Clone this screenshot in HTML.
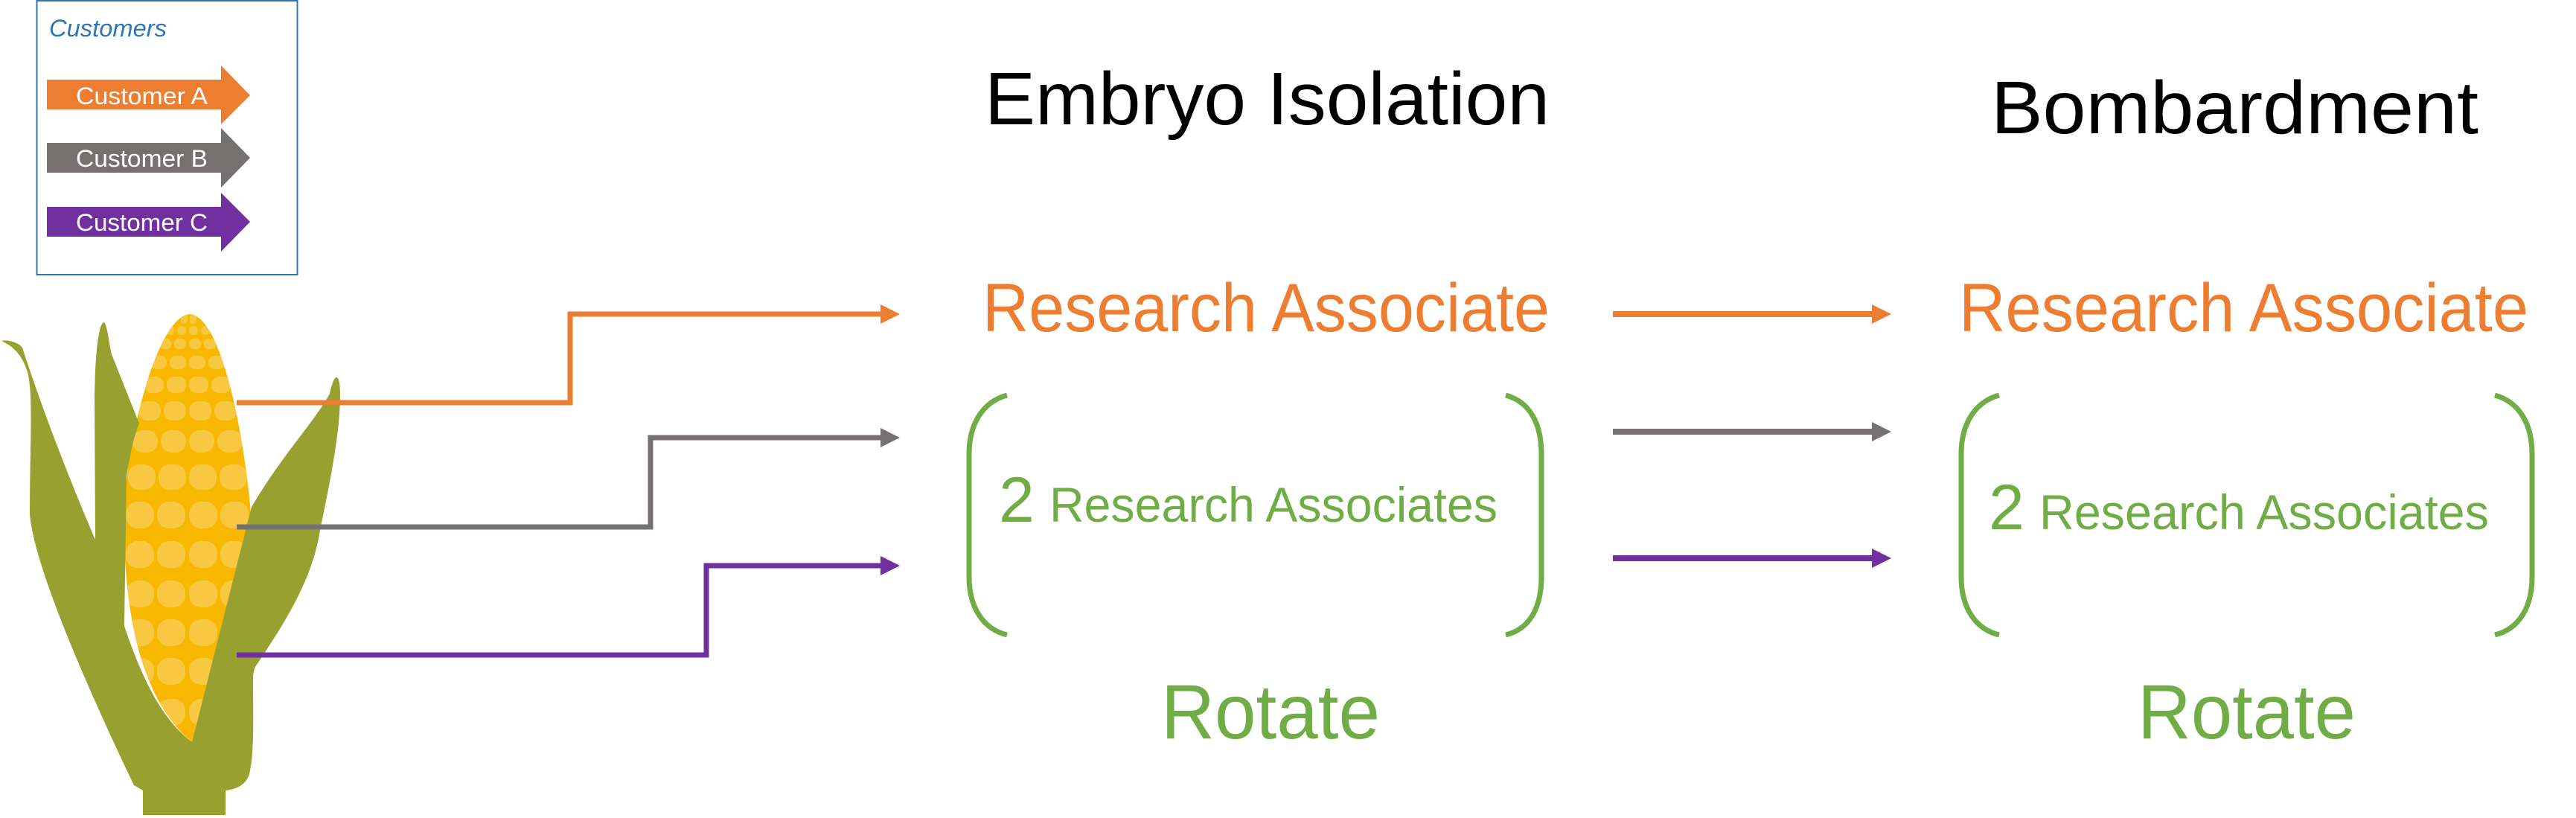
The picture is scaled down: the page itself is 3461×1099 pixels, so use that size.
<!DOCTYPE html>
<html><head><meta charset="utf-8"><style>html,body{margin:0;padding:0;background:#fff}svg{display:block}</style></head><body>
<svg width="3461" height="1099" viewBox="0 0 3461 1099" xmlns="http://www.w3.org/2000/svg" font-family="'Liberation Sans', sans-serif">
<!-- legend -->
<rect x="49.5" y="1" width="350" height="368" fill="none" stroke="#2E75B6" stroke-width="2"/>
<text x="66" y="49" font-size="32" font-style="italic" fill="#2E75B6" textLength="158" lengthAdjust="spacingAndGlyphs">Customers</text>
<polygon points="63,107 297,107 297,88 336,128 297,167 297,147 63,147" fill="#ED7D31"/>
<text x="102" y="140" font-size="32" fill="#fff" textLength="177" lengthAdjust="spacingAndGlyphs">Customer A</text>
<polygon points="63,192 297,192 297,172 336,212 297,252 297,232 63,232" fill="#767171"/>
<text x="102" y="224" font-size="32" fill="#fff" textLength="177" lengthAdjust="spacingAndGlyphs">Customer B</text>
<polygon points="63,278 297,278 297,259 336,298 297,338 297,318 63,318" fill="#7030A0"/>
<text x="102" y="310" font-size="32" fill="#fff" textLength="177" lengthAdjust="spacingAndGlyphs">Customer C</text>

<!-- corn -->
<defs><clipPath id="ear"><path d="M255,422 C300,425 330,600 337,690 C340,800 320,900 258,997 C200,950 165,850 167,690 C168,600 210,425 255,422Z"/></clipPath></defs>
<path d="M255,422 C300,425 330,600 337,690 C340,800 320,900 258,997 C200,950 165,850 167,690 C168,600 210,425 255,422Z" fill="#F8B800"/>
<g clip-path="url(#ear)" fill="#F9C843">
<rect x="243" y="421" width="9" height="14" rx="4"/><rect x="255" y="421" width="9" height="14" rx="4"/>
<rect x="222" y="438" width="12" height="12" rx="5"/><rect x="238" y="438" width="12" height="12" rx="5"/><rect x="254" y="438" width="12" height="12" rx="5"/><rect x="270" y="438" width="12" height="12" rx="5"/>
<rect x="214" y="455" width="16" height="14" rx="6"/><rect x="234" y="455" width="16" height="14" rx="6"/><rect x="254" y="455" width="16" height="14" rx="6"/><rect x="274" y="455" width="16" height="14" rx="6"/>
<rect x="202" y="478" width="22" height="18" rx="8"/><rect x="228" y="478" width="22" height="18" rx="8"/><rect x="254" y="478" width="22" height="18" rx="8"/><rect x="280" y="478" width="22" height="18" rx="8"/>
<rect x="194" y="506" width="26" height="22" rx="10"/><rect x="224" y="506" width="26" height="22" rx="10"/><rect x="254" y="506" width="26" height="22" rx="10"/><rect x="284" y="506" width="26" height="22" rx="10"/>
<rect x="186" y="539" width="30" height="26" rx="12"/><rect x="220" y="539" width="30" height="26" rx="12"/><rect x="254" y="539" width="30" height="26" rx="12"/><rect x="288" y="539" width="30" height="26" rx="12"/>
<rect x="178" y="578" width="34" height="30" rx="14"/><rect x="216" y="578" width="34" height="30" rx="14"/><rect x="254" y="578" width="34" height="30" rx="14"/><rect x="292" y="578" width="34" height="30" rx="14"/>
<rect x="172" y="624" width="37" height="34" rx="15"/><rect x="213" y="624" width="37" height="34" rx="15"/><rect x="254" y="624" width="37" height="34" rx="15"/><rect x="295" y="624" width="37" height="34" rx="15"/>
<g id="r9"><rect x="169" y="674" width="38" height="36" rx="16"/><rect x="211" y="674" width="38" height="36" rx="16"/><rect x="254" y="674" width="38" height="36" rx="16"/><rect x="296" y="674" width="38" height="36" rx="16"/></g>
<use href="#r9" y="53"/><use href="#r9" y="106"/><use href="#r9" y="158"/><use href="#r9" y="210"/><use href="#r9" y="265"/>
</g>
<path fill="#98A12F" d="M2,458 C10,462 28,470 37,500 C45,530 40,600 40,690 C45,760 120,930 180,1055 L192,1062 L192,1095 L303,1095 L303,1062 C318,1060 330,1055 335,1040 C342,1010 340,960 340,913 C340,900 343,895 347,890 C380,840 420,780 430,712 C445,640 457,580 457,529 C457,515 455,507 452,507 C449,507 446,515 443,529 C420,570 380,610 338,681 L258,997 C230,975 200,940 167,841 L170,640 C175,610 180,585 187,569 L150,476 C147,465 145,440 140,433 C133,433 128,470 127,534 L128,725 C100,660 60,560 30,467 C25,460 10,456 2,458Z"/>

<!-- left connectors -->
<g fill="none" stroke-width="7">
<polyline points="318,541 766,541 766,422 1186,422" stroke="#ED7D31"/>
<polyline points="318,708 874,708 874,588 1186,588" stroke="#767171"/>
<polyline points="318,880 949,880 949,760 1186,760" stroke="#7030A0"/>
</g>
<polygon points="1183,409 1209,422 1183,435" fill="#ED7D31"/>
<polygon points="1183,575 1209,588 1183,601" fill="#767171"/>
<polygon points="1183,747 1209,760 1183,773" fill="#7030A0"/>

<!-- headers -->
<text x="1323" y="167" font-size="100" fill="#000" textLength="759" lengthAdjust="spacingAndGlyphs">Embryo Isolation</text>
<text x="2675" y="179" font-size="100" fill="#000" textLength="655" lengthAdjust="spacingAndGlyphs">Bombardment</text>

<text x="1320" y="445" font-size="92" fill="#ED7D31" textLength="762" lengthAdjust="spacingAndGlyphs">Research Associate</text>
<text x="2632" y="445" font-size="92" fill="#ED7D31" textLength="765" lengthAdjust="spacingAndGlyphs">Research Associate</text>

<!-- middle arrows -->
<g stroke-width="8">
<line x1="2167" y1="422" x2="2520" y2="422" stroke="#ED7D31"/>
<line x1="2167" y1="580" x2="2520" y2="580" stroke="#767171"/>
<line x1="2167" y1="750" x2="2520" y2="750" stroke="#7030A0"/>
</g>
<polygon points="2515,409 2541,422 2515,435" fill="#ED7D31"/>
<polygon points="2515,567 2541,580 2515,593" fill="#767171"/>
<polygon points="2515,737 2541,750 2515,763" fill="#7030A0"/>

<!-- brackets -->
<g fill="none" stroke="#70AD47" stroke-width="7">
<path d="M1353,531 C1320,540 1302,570 1302,610 L1302,775 C1302,815 1320,845 1353,853"/>
<path d="M2023,531 C2056,540 2071,570 2071,610 L2071,775 C2071,815 2056,845 2023,853"/>
<path d="M2686,531 C2653,540 2635,570 2635,610 L2635,775 C2635,815 2653,845 2686,853"/>
<path d="M3352,531 C3385,540 3402,570 3402,610 L3402,775 C3402,815 3385,845 3352,853"/>
</g>
<text x="1342" y="701" font-size="86" fill="#70AD47">2</text>
<text x="1410" y="701" font-size="66" fill="#70AD47" textLength="602" lengthAdjust="spacingAndGlyphs">Research Associates</text>
<text x="2672" y="711" font-size="86" fill="#70AD47">2</text>
<text x="2740" y="711" font-size="66" fill="#70AD47" textLength="604" lengthAdjust="spacingAndGlyphs">Research Associates</text>

<text x="1560" y="992" font-size="104" fill="#70AD47" textLength="294" lengthAdjust="spacingAndGlyphs">Rotate</text>
<text x="2872" y="992" font-size="104" fill="#70AD47" textLength="293" lengthAdjust="spacingAndGlyphs">Rotate</text>
</svg>
</body></html>
